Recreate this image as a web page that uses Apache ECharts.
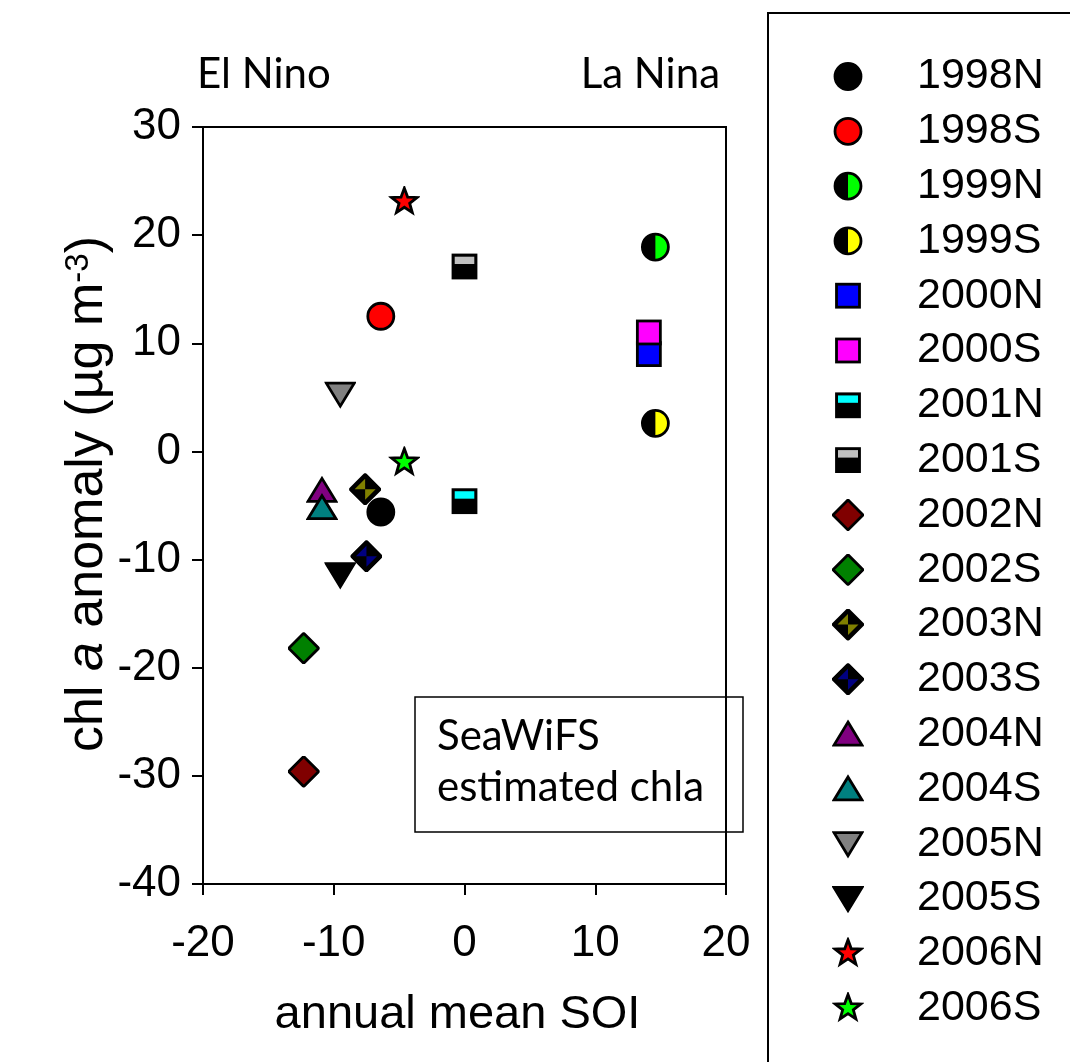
<!DOCTYPE html>
<html><head><meta charset="utf-8">
<script src="https://cdn.jsdelivr.net/npm/echarts@6/dist/echarts.min.js"></script>
<style>html,body{margin:0;padding:0;background:#fff}#c{width:1070px;height:1062px}</style>
</head><body><div id="c"></div>
<script>
// ---- data ----
const names = ['1998N','1998S','1999N','1999S','2000N','2000S','2001N','2001S','2002N','2002S','2003N','2003S','2004N','2004S','2005N','2005S','2006N','2006S'];
const soi   = [-6.4,-6.4,14.6,14.6,14.1,14.1,0.0,0.0,-12.3,-12.3,-7.6,-7.5,-10.9,-10.9,-9.5,-9.5,-4.6,-4.6];
const chl   = [-5.6,12.5,18.9,2.6,9.0,11.0,-4.6,17.1,-29.6,-18.2,-3.5,-9.7,-3.6,-5.2,5.3,-11.4,23.1,-1.0];
const xTicks = [-20,-10,0,10,20];
const yTicks = [-40,-30,-20,-10,0,10,20,30];

// ---- marker styles ----
const shapes = ['circle','circle','halfcircle','halfcircle','square','square','stripsquare','stripsquare','diamond','diamond','xdiamond','xdiamond','up','up','down','down','star','star'];
const fills  = ['#000000','#ff0000','#00ff00','#ffff00','#0000ff','#ff00ff','#00ffff','#c0c0c0','#800000','#008000','#808000','#000080','#800080','#008080','#808080','#000000','#ff0000','#00ff00'];

function starPts(R, r) {
  const p = [];
  for (let i = 0; i < 10; i++) {
    const a = -Math.PI / 2 + i * Math.PI / 5;
    const rr = i % 2 === 0 ? R : r;
    p.push((rr * Math.cos(a)).toFixed(2) + ',' + (rr * Math.sin(a)).toFixed(2));
  }
  return p.join(' ');
}
function svgFor(shape, c) {
  const sw = 2.8, st = 'stroke="#000" stroke-width="' + sw + '" stroke-linejoin="miter"';
  let body = '';
  switch (shape) {
    case 'circle': body = '<circle cx="0" cy="0" r="13" fill="' + c + '" ' + st + '/>'; break;
    case 'halfcircle':
      body = '<circle cx="0" cy="0" r="13" fill="#000"/>' +
             '<path d="M0,-13 A13,13 0 0 1 0,13 Z" fill="' + c + '"/>' +
             '<circle cx="0" cy="0" r="13" fill="none" ' + st + '/>'; break;
    case 'square': body = '<rect x="-11.5" y="-11.5" width="23" height="23" fill="' + c + '" ' + st + '/>'; break;
    case 'stripsquare':
      body = '<rect x="-11.5" y="-11.5" width="23" height="23" fill="#000"/>' +
             '<rect x="-10" y="-10" width="20" height="7.5" fill="' + c + '"/>' +
             '<rect x="-11.5" y="-11.5" width="23" height="23" fill="none" ' + st + '/>'; break;
    case 'diamond': body = '<polygon points="0,-15 15,0 0,15 -15,0" fill="' + c + '" ' + st + '/>'; break;
    case 'xdiamond':
      body = '<polygon points="0,-15 15,0 0,15 -15,0" fill="#000"/>' +
             '<polygon points="0,-10.5 0,0 -10.5,0" fill="' + c + '"/>' +
             '<polygon points="0,10.5 0,0 10.5,0" fill="' + c + '"/>' +
             '<polygon points="0,-15 15,0 0,15 -15,0" fill="none" ' + st + '/>'; break;
    case 'up': body = '<polygon points="0,-12 14,11 -14,11" fill="' + c + '" ' + st + '/>'; break;
    case 'down': body = '<polygon points="-14,-11 14,-11 0,12" fill="' + c + '" ' + st + '/>'; break;
    case 'star': body = '<polygon points="' + starPts(13.5, 5.6) + '" fill="' + c + '" ' + st + '/>'; break;
  }
  const svg = '<svg xmlns="http://www.w3.org/2000/svg" width="32" height="32" viewBox="-16 -16 32 32">' + body + '</svg>';
  return 'image://data:image/svg+xml;charset=utf-8,' + encodeURIComponent(svg);
}

const icons = names.map((n, i) => svgFor(shapes[i], fills[i]));

const series = names.map((n, i) => ({
  name: n,
  type: 'scatter',
  symbol: icons[i],
  symbolSize: 32,
  itemStyle: {opacity: 1},
  emphasis: {disabled: true},
  data: [[soi[i], chl[i]]],
  z: 10 + i
}));

const chart = echarts.init(document.getElementById('c'), null, {renderer: 'canvas'});
const axisFont = 'Liberation Sans, Arial, sans-serif';
chart.setOption({
  animation: false,
  backgroundColor: '#fff',
  grid: {left: 203, right: 344, top: 127, bottom: 178, show: true, borderColor: '#000', borderWidth: 2},
  xAxis: {
    type: 'value', min: xTicks[0], max: xTicks[xTicks.length - 1], interval: 10,
    axisLine: {show: true, onZero: false, lineStyle: {color: '#000', width: 2}},
    axisTick: {show: true, inside: false, length: 11, lineStyle: {color: '#000', width: 2}},
    splitLine: {show: false},
    axisLabel: {color: '#000', fontSize: 44, fontFamily: axisFont, margin: 38},
    name: 'annual mean SOI', nameLocation: 'middle', nameGap: 108,
    nameTextStyle: {color: '#000', fontSize: 47, fontFamily: axisFont, padding: [0, 14, 0, 0]}
  },
  yAxis: {
    type: 'value', min: yTicks[0], max: yTicks[yTicks.length - 1], interval: 10,
    axisLine: {show: true, onZero: false, lineStyle: {color: '#000', width: 2}},
    axisTick: {show: true, inside: false, length: 11, lineStyle: {color: '#000', width: 2}},
    splitLine: {show: false},
    axisLabel: {color: '#000', fontSize: 44, fontFamily: axisFont, margin: 22}
  },
  legend: {
    orient: 'vertical', left: 832, top: 55, padding: 0,
    itemWidth: 32, itemHeight: 32, itemGap: 11.8,
    selectedMode: false,
    data: names.map((n, i) => ({name: n, icon: icons[i]})),
    itemStyle: {opacity: 1},
    textStyle: {color: '#000', fontSize: 43, fontFamily: axisFont, padding: [0, 0, 0, 48]}
  },
  graphic: [
    {type: 'rect', z: -1, shape: {x: 768, y: 13, width: 400, height: 1100}, style: {fill: 'none', stroke: '#000', lineWidth: 2}},
    {type: 'rect', z: 5, shape: {x: 415, y: 697, width: 328, height: 135}, style: {fill: 'none', stroke: '#000', lineWidth: 1.5}},
    {type: 'text', z: 6, x: 437, y: 711, style: {text: 'SeaWiFS\nestimated chla', fontSize: 42, fontFamily: 'Lato', lineHeight: 51, fill: '#000', verticalAlign: 'top'}},
    {type: 'text', x: 197, y: 74, style: {text: 'El Nino', fontSize: 42, fontFamily: 'Lato', fill: '#000', verticalAlign: 'middle'}},
    {type: 'text', x: 720, y: 74, style: {text: 'La Nina', fontSize: 42, fontFamily: 'Lato', fill: '#000', align: 'right', verticalAlign: 'middle'}},
    {type: 'text', x: 88, y: 494, rotation: Math.PI / 2,
     style: {text: '{n|chl }{i|a}{n| anomaly (µg m}{s|-3}{n|)}', align: 'center', verticalAlign: 'middle', fill: '#000',
       rich: {
         n: {fontSize: 52, fontFamily: axisFont, fill: '#000'},
         i: {fontSize: 52, fontFamily: axisFont, fontStyle: 'italic', fill: '#000'},
         s: {fontSize: 33, fontFamily: axisFont, fill: '#000', verticalAlign: 'top'}
       }}}
  ],
  series: series
});
</script></body></html>
